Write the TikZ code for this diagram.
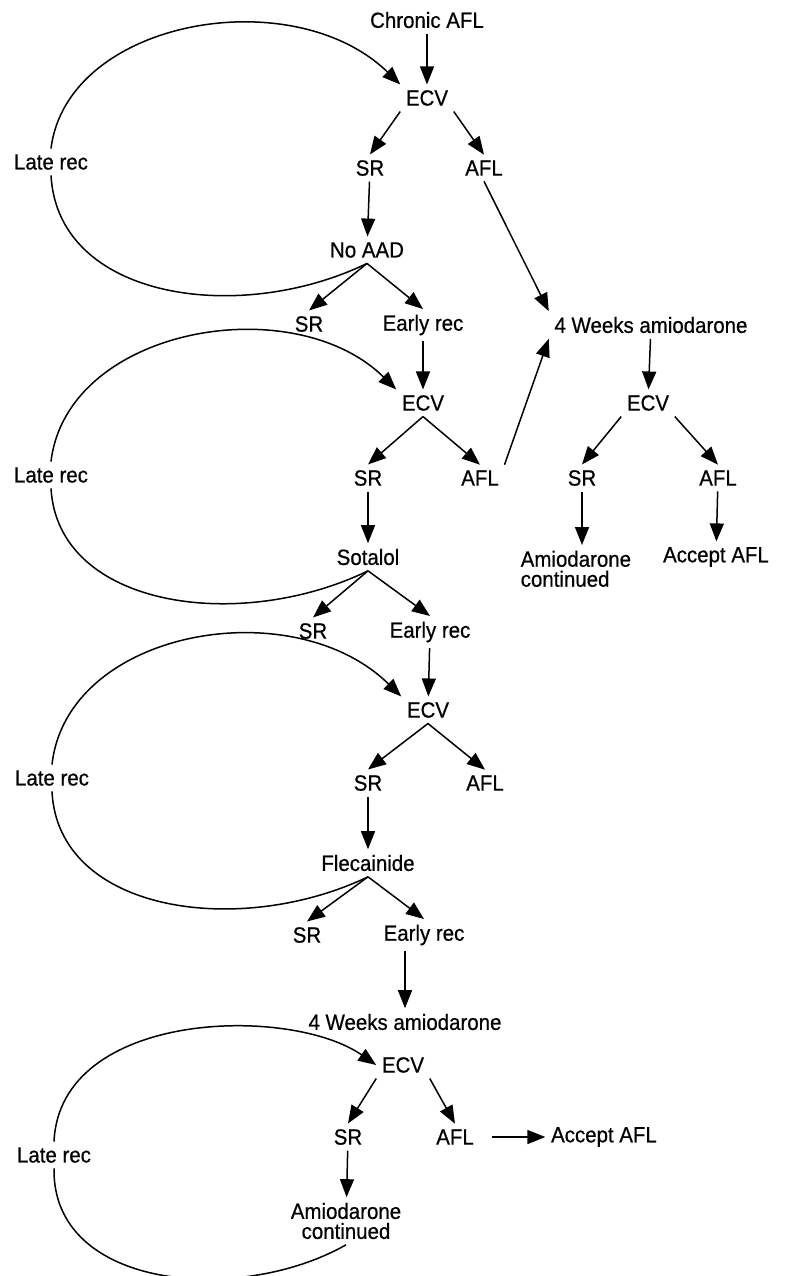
\documentclass[tikz,border=0pt]{standalone}
\usepackage{fontspec}
\setmainfont{Liberation Sans}[FakeStretch=0.93, FakeBold=0.6]
\usetikzlibrary{arrows.meta}
\begin{document}
\begin{tikzpicture}[x=0.5pt, y=-0.5pt, line width=0.75pt,
    >={Triangle[length=9pt,width=7pt]},
    every node/.style={inner sep=2.5pt, font=\fontsize{11}{10}\selectfont}]
    \useasboundingbox (0,0) rectangle (792,1276);
    \node (chronic) at (427,20) {Chronic AFL};
    \node (ecva) at (427,98) {ECV};
    \node (sra) at (370,168) {SR};
    \node (afla) at (484,168) {AFL};
    \node (noaad) at (367,250) {No AAD};
    \node (srb) at (309,324) {SR};
    \node (earlya) at (423,325) {Early rec};
    \node (weeksr) at (651,325) {4 Weeks amiodarone};
    \node (ecvb) at (423,403) {ECV};
    \node (src) at (368,478) {SR};
    \node (aflb) at (480,478) {AFL};
    \node (sotalol) at (368,557) {Sotalol};
    \node (srd) at (313,631) {SR};
    \node (earlyb) at (430,632) {Early rec};
    \node (ecvc) at (428,710) {ECV};
    \node (sre) at (368,783) {SR};
    \node (aflc) at (485,783) {AFL};
    \node (flec) at (368,863) {Flecainide};
    \node (srf) at (307,935) {SR};
    \node (earlyc) at (424,935) {Early rec};
    \node (weeksb) at (405,1022) {4 Weeks amiodarone};
    \node (ecvd) at (403,1065) {ECV};
    \node (srg) at (348,1137) {SR};
    \node (afld) at (455,1137) {AFL};
    \node (acceptb) at (604,1137) {Accept AFL};
    \node[align=center] (amiob) at (346,1221) {Amiodarone\\continued};
    \node (ecvr) at (648,403) {ECV};
    \node (srr) at (582,478) {SR};
    \node (aflr) at (718,478) {AFL};
    \node[anchor=north west, align=left] (amior) at (515,545) {Amiodarone\\continued};
    \node (acceptr) at (716,557) {Accept AFL};
    \node (latea) at (51,162) {Late rec};
    \node (lateb) at (51,475) {Late rec};
    \node (latec) at (52,778) {Late rec};
    \node (lated) at (54,1155) {Late rec};
    \draw [->] (chronic) -- (ecva);
    \draw [->] (ecva.south west) -- (sra.north);
    \draw [->] (ecva.south east) -- (afla.north);
    \draw [->] (sra) -- (noaad);
    \draw [->] (noaad.south) -- (srb.north);
    \draw [->] (noaad.south) -- (earlya.north);
    \draw [->] (afla.south) -- (weeksr.north west);
    \draw [->] (earlya) -- (ecvb);
    \draw [->] (ecvb.south) -- (src.north);
    \draw [->] (ecvb.south) -- (aflb.north);
    \draw [->] (aflb.north east) -- (weeksr.south west);
    \draw [->] (src) -- (sotalol);
    \draw [->] (sotalol.south) -- (srd.north);
    \draw [->] (sotalol.south) -- (earlyb.north);
    \draw [->] (earlyb) -- (ecvc);
    \draw [->] (ecvc.south) -- (sre.north);
    \draw [->] (ecvc.south) -- (aflc.north);
    \draw [->] (sre) -- (flec);
    \draw [->] (flec.south) -- (srf.north);
    \draw [->] (flec.south) -- (earlyc.north);
    \draw [->] (earlyc.south -| weeksb.north) -- (weeksb.north);
    \draw [->] (ecvd.south west) -- (srg.north);
    \draw [->] (ecvd.south east) -- (afld.north);
    \draw [->, shorten <=6pt] (afld.east) -- (acceptb.west);
    \draw [->] (srg) -- (amiob);
    \draw [->] (weeksr) -- (ecvr);
    \draw [->] (ecvr.south west) -- (srr.north);
    \draw [->] (ecvr.south east) -- (aflr.north);
    \draw [->] (srr) -- (srr |- amior.north);
    \draw [->] (aflr) -- (acceptr);
    \draw (noaad.south) .. controls (240,325) and (58,300) .. (latea.south);
    \draw [->] (latea.north) .. controls (67,19.5) and (293,-20) .. (ecva.north west);
    \draw (sotalol.south) .. controls (240,633) and (58,608) .. (lateb.south);
    \draw [->] (lateb.north) .. controls (67,327.5) and (293,288) .. (ecvb.north west);
    \draw (flec.south) .. controls (240,938) and (58,913) .. (latec.south);
    \draw [->] (latec.north) .. controls (67,629.5) and (293,590) .. (ecvc.north west);
    \draw (amiob.south) .. controls (240,1305) and (52,1290) .. (lated.south);
    \draw [->] (lated.north) .. controls (60,1010) and (290,1005) .. (ecvd.west);
\end{tikzpicture}
\end{document}
